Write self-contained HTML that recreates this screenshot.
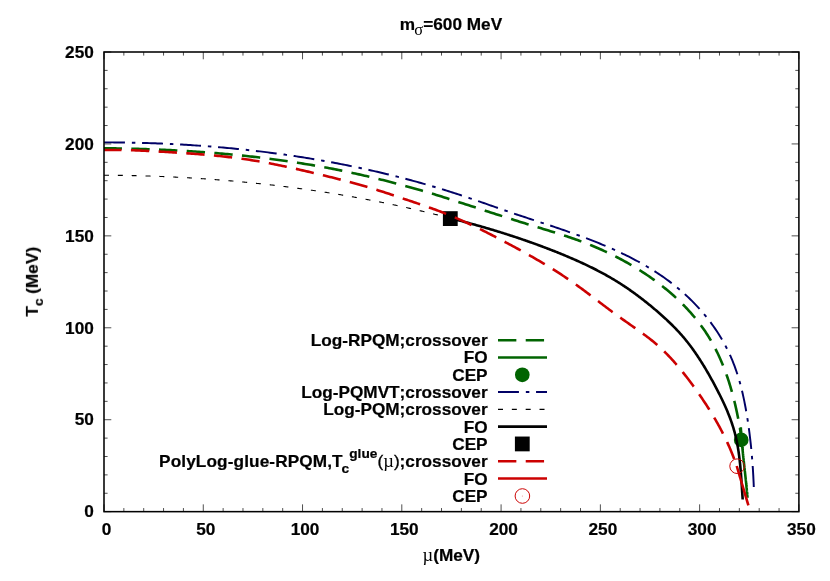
<!DOCTYPE html>
<html><head><meta charset="utf-8"><title>Phase diagram</title>
<style>
html,body{margin:0;padding:0;background:#fff;}
svg{display:block;}
text{font-family:"Liberation Sans",sans-serif;font-weight:bold;font-size:17.22px;fill:#000;font-kerning:none;stroke:#000;stroke-width:0.22px;}
.par{font-weight:normal;stroke:#000;stroke-width:0.35px;}
.sym{font-family:"Liberation Serif",serif;font-weight:normal;stroke:none;}
path{fill:none;}
</style></head>
<body>
<svg width="830" height="581" viewBox="0 0 830 581">
<rect width="830" height="581" fill="#fff"/>
<g style="opacity:0.999">
<text x="399.85" y="29.8">m<tspan class="sym" dx="-0.85" dy="5.3" font-size="16.5">σ</tspan><tspan dx="0" dy="-5.3">=600 MeV</tspan></text>
<text transform="translate(37.9,281.8) rotate(-90)" text-anchor="middle">T<tspan dy="4.8" font-size="13.7">c</tspan><tspan dy="-4.8"> (MeV)</tspan></text>
<text x="451.3" y="560.8" text-anchor="middle"><tspan class="sym" font-size="18.5">µ</tspan>(MeV)</text>
<g><text x="106.50" y="535.2" text-anchor="middle">0</text><text x="205.77" y="535.2" text-anchor="middle">50</text><text x="305.04" y="535.2" text-anchor="middle">100</text><text x="404.31" y="535.2" text-anchor="middle">150</text><text x="503.59" y="535.2" text-anchor="middle">200</text><text x="602.86" y="535.2" text-anchor="middle">250</text><text x="702.13" y="535.2" text-anchor="middle">300</text><text x="801.40" y="535.2" text-anchor="middle">350</text></g>
<g><text x="93.8" y="517.40" text-anchor="end">0</text><text x="93.8" y="425.47" text-anchor="end">50</text><text x="93.8" y="333.54" text-anchor="end">100</text><text x="93.8" y="241.61" text-anchor="end">150</text><text x="93.8" y="149.68" text-anchor="end">200</text><text x="93.8" y="57.75" text-anchor="end">250</text></g>
<path d="M104.00,511.65 v-7.3 M104.00,52.0 v7.3 M123.85,511.65 v-3.6 M123.85,52.0 v3.6 M143.71,511.65 v-3.6 M143.71,52.0 v3.6 M163.56,511.65 v-3.6 M163.56,52.0 v3.6 M183.42,511.65 v-3.6 M183.42,52.0 v3.6 M203.27,511.65 v-7.3 M203.27,52.0 v7.3 M223.13,511.65 v-3.6 M223.13,52.0 v3.6 M242.98,511.65 v-3.6 M242.98,52.0 v3.6 M262.83,511.65 v-3.6 M262.83,52.0 v3.6 M282.69,511.65 v-3.6 M282.69,52.0 v3.6 M302.54,511.65 v-7.3 M302.54,52.0 v7.3 M322.40,511.65 v-3.6 M322.40,52.0 v3.6 M342.25,511.65 v-3.6 M342.25,52.0 v3.6 M362.11,511.65 v-3.6 M362.11,52.0 v3.6 M381.96,511.65 v-3.6 M381.96,52.0 v3.6 M401.81,511.65 v-7.3 M401.81,52.0 v7.3 M421.67,511.65 v-3.6 M421.67,52.0 v3.6 M441.52,511.65 v-3.6 M441.52,52.0 v3.6 M461.38,511.65 v-3.6 M461.38,52.0 v3.6 M481.23,511.65 v-3.6 M481.23,52.0 v3.6 M501.09,511.65 v-7.3 M501.09,52.0 v7.3 M520.94,511.65 v-3.6 M520.94,52.0 v3.6 M540.79,511.65 v-3.6 M540.79,52.0 v3.6 M560.65,511.65 v-3.6 M560.65,52.0 v3.6 M580.50,511.65 v-3.6 M580.50,52.0 v3.6 M600.36,511.65 v-7.3 M600.36,52.0 v7.3 M620.21,511.65 v-3.6 M620.21,52.0 v3.6 M640.07,511.65 v-3.6 M640.07,52.0 v3.6 M659.92,511.65 v-3.6 M659.92,52.0 v3.6 M679.77,511.65 v-3.6 M679.77,52.0 v3.6 M699.63,511.65 v-7.3 M699.63,52.0 v7.3 M719.48,511.65 v-3.6 M719.48,52.0 v3.6 M739.34,511.65 v-3.6 M739.34,52.0 v3.6 M759.19,511.65 v-3.6 M759.19,52.0 v3.6 M779.05,511.65 v-3.6 M779.05,52.0 v3.6 M798.90,511.65 v-7.3 M798.90,52.0 v7.3 M104.0,511.65 h7.3 M798.9,511.65 h-7.3 M104.0,493.26 h3.6 M798.9,493.26 h-3.6 M104.0,474.88 h3.6 M798.9,474.88 h-3.6 M104.0,456.49 h3.6 M798.9,456.49 h-3.6 M104.0,438.11 h3.6 M798.9,438.11 h-3.6 M104.0,419.72 h7.3 M798.9,419.72 h-7.3 M104.0,401.33 h3.6 M798.9,401.33 h-3.6 M104.0,382.95 h3.6 M798.9,382.95 h-3.6 M104.0,364.56 h3.6 M798.9,364.56 h-3.6 M104.0,346.18 h3.6 M798.9,346.18 h-3.6 M104.0,327.79 h7.3 M798.9,327.79 h-7.3 M104.0,309.40 h3.6 M798.9,309.40 h-3.6 M104.0,291.02 h3.6 M798.9,291.02 h-3.6 M104.0,272.63 h3.6 M798.9,272.63 h-3.6 M104.0,254.25 h3.6 M798.9,254.25 h-3.6 M104.0,235.86 h7.3 M798.9,235.86 h-7.3 M104.0,217.47 h3.6 M798.9,217.47 h-3.6 M104.0,199.09 h3.6 M798.9,199.09 h-3.6 M104.0,180.70 h3.6 M798.9,180.70 h-3.6 M104.0,162.32 h3.6 M798.9,162.32 h-3.6 M104.0,143.93 h7.3 M798.9,143.93 h-7.3 M104.0,125.54 h3.6 M798.9,125.54 h-3.6 M104.0,107.16 h3.6 M798.9,107.16 h-3.6 M104.0,88.77 h3.6 M798.9,88.77 h-3.6 M104.0,70.39 h3.6 M798.9,70.39 h-3.6 M104.0,52.00 h7.3 M798.9,52.00 h-7.3" stroke="#000" stroke-width="0.7"/>
<g>
<text x="487.6" y="346.20" text-anchor="end">Log-RPQM;crossover</text><path d="M498.0,340.20 H547.0" stroke="#006400" stroke-width="2.6" stroke-dasharray="18.35 9.37"/>
<text x="487.6" y="363.49" text-anchor="end">FO</text><path d="M498.0,357.49 H547.0" stroke="#006400" stroke-width="2.6"/>
<text x="487.6" y="380.78" text-anchor="end">CEP</text><circle cx="522.3" cy="374.78" r="7.35" fill="#006400"/>
<text x="487.6" y="398.07" text-anchor="end">Log-PQMVT;crossover</text><path d="M498.0,392.07 H547.0" stroke="#000066" stroke-width="1.95" stroke-dasharray="20.93 6.91 3.5 6.71"/>
<text x="487.6" y="415.36" text-anchor="end">Log-PQM;crossover</text><path d="M498.0,409.36 H547.0" stroke="#000000" stroke-width="1.1" stroke-dasharray="5 8.84"/>
<text x="487.6" y="432.65" text-anchor="end">FO</text><path d="M498.0,426.65 H547.0" stroke="#000000" stroke-width="2.6"/>
<text x="487.6" y="449.94" text-anchor="end">CEP</text><rect x="514.9" y="436.54" width="14.8" height="14.8" fill="#000000"/>
<text x="487.6" y="467.23" text-anchor="end"><tspan letter-spacing="0.11">PolyLog-glue-RPQM,</tspan>T<tspan dx="-1.2" dy="5.7" font-size="13.7">c</tspan><tspan dx="0.2" dy="-14.5" font-size="13.7">glue</tspan><tspan dx="0.1" dy="8.8" class="par">(</tspan><tspan class="sym" font-size="18.5">µ</tspan><tspan class="par">)</tspan>;crossover</text><path d="M498.0,461.23 H547.0" stroke="#cc0000" stroke-width="2.6" stroke-dasharray="18.35 9.37"/>
<text x="487.6" y="484.52" text-anchor="end">FO</text><path d="M498.0,478.52 H547.0" stroke="#cc0000" stroke-width="2.6"/>
<text x="487.6" y="501.81" text-anchor="end">CEP</text><circle cx="522.4" cy="496.01" r="7.3" fill="none" stroke="#cc0000" stroke-width="1"/><circle cx="522.4" cy="496.01" r="0.6" fill="#cc0000" opacity="0.45"/>
</g>
<g stroke-linecap="butt" stroke-linejoin="round">
<path d="M104.00,148.27 L105.90,148.29 L107.81,148.31 L109.71,148.33 L111.61,148.35 L113.51,148.38 L115.42,148.41 L117.32,148.44 L119.22,148.47 L121.12,148.50 L123.03,148.54 L124.93,148.58 L126.83,148.62 L128.74,148.66 L130.64,148.70 L132.54,148.75 L134.44,148.80 L136.35,148.85 L138.25,148.90 L140.15,148.95 L142.05,149.01 L143.95,149.07 L145.86,149.13 L147.76,149.20 L149.66,149.26 L151.56,149.33 L153.47,149.40 L155.37,149.47 L157.27,149.55 L159.17,149.62 L161.07,149.70 L162.97,149.79 L164.87,149.87 L166.78,149.96 L168.68,150.05 L170.58,150.14 L172.48,150.23 L174.38,150.33 L176.28,150.43 L178.18,150.53 L180.08,150.63 L181.98,150.74 L183.88,150.85 L185.78,150.96 L187.68,151.08 L189.58,151.19 L191.48,151.31 L193.38,151.44 L195.27,151.56 L197.17,151.69 L199.07,151.82 L200.97,151.95 L202.87,152.09 L204.77,152.23 L206.66,152.37 L208.56,152.51 L210.46,152.66 L212.35,152.81 L214.25,152.96 L216.15,153.12 L218.04,153.28 L219.94,153.44 L221.83,153.60 L223.73,153.77 L225.63,153.94 L227.52,154.11 L229.41,154.29 L231.31,154.47 L233.20,154.65 L235.10,154.84 L236.99,155.02 L238.88,155.22 L240.78,155.41 L242.67,155.61 L244.56,155.81 L246.45,156.01 L248.34,156.22 L250.24,156.43 L252.13,156.64 L254.02,156.86 L255.91,157.08 L257.80,157.30 L259.69,157.53 L261.58,157.76 L263.47,157.99 L265.35,158.23 L267.24,158.46 L269.13,158.71 L271.02,158.95 L272.90,159.20 L274.79,159.45 L276.68,159.71 L278.56,159.97 L280.45,160.23 L282.33,160.49 L284.21,160.76 L286.10,161.03 L287.98,161.30 L289.86,161.58 L291.74,161.86 L293.63,162.14 L295.51,162.43 L297.39,162.72 L299.27,163.01 L301.14,163.31 L303.02,163.61 L304.90,163.91 L306.78,164.22 L308.65,164.53 L310.53,164.84 L312.40,165.15 L314.28,165.47 L316.15,165.80 L318.03,166.12 L319.90,166.45 L321.77,166.78 L323.64,167.12 L325.51,167.47 L327.38,167.82 L329.25,168.17 L331.11,168.53 L332.98,168.89 L334.84,169.26 L336.71,169.63 L338.57,170.01 L340.43,170.39 L342.29,170.77 L344.16,171.16 L346.02,171.55 L347.88,171.95 L349.74,172.35 L351.59,172.75 L353.45,173.16 L355.31,173.56 L357.17,173.98 L359.02,174.39 L360.88,174.81 L362.73,175.23 L364.59,175.66 L366.44,176.09 L368.29,176.52 L370.15,176.96 L372.00,177.40 L373.85,177.84 L375.70,178.29 L377.55,178.73 L379.40,179.19 L381.24,179.64 L383.09,180.10 L384.94,180.56 L386.78,181.03 L388.63,181.50 L390.47,181.97 L392.31,182.45 L394.16,182.93 L396.00,183.41 L397.84,183.90 L399.68,184.39 L401.51,184.88 L403.35,185.38 L405.19,185.88 L407.02,186.38 L408.86,186.89 L410.69,187.40 L412.52,187.91 L414.35,188.43 L416.19,188.95 L418.01,189.48 L419.84,190.00 L421.67,190.53 L423.50,191.07 L425.32,191.61 L427.15,192.15 L428.97,192.69 L430.79,193.24 L432.61,193.80 L434.43,194.35 L436.25,194.91 L438.07,195.47 L439.88,196.04 L441.70,196.60 L443.51,197.17 L445.32,197.75 L447.14,198.32 L448.95,198.90 L450.76,199.48 L452.57,200.06 L454.38,200.64 L456.19,201.23 L458.00,201.81 L459.81,202.40 L461.62,202.99 L463.43,203.57 L465.23,204.16 L467.04,204.75 L468.85,205.34 L470.66,205.93 L472.46,206.52 L474.27,207.11 L476.08,207.70 L477.89,208.29 L479.69,208.88 L481.50,209.47 L483.31,210.05 L485.12,210.64 L486.92,211.23 L488.73,211.81 L490.54,212.39 L492.35,212.98 L494.16,213.56 L495.96,214.14 L497.77,214.72 L499.58,215.30 L501.39,215.88 L503.20,216.46 L505.01,217.04 L506.82,217.62 L508.63,218.20 L510.44,218.78 L512.25,219.35 L514.06,219.93 L515.87,220.50 L517.68,221.08 L519.49,221.65 L521.30,222.22 L523.12,222.78 L524.93,223.35 L526.74,223.91 L528.56,224.47 L530.38,225.03 L532.20,225.59 L534.01,226.15 L535.83,226.70 L537.65,227.26 L539.48,227.81 L541.30,228.36 L543.12,228.91 L544.94,229.47 L546.76,230.02 L548.58,230.58 L550.40,231.14 L552.22,231.70 L554.04,232.27 L555.86,232.83 L557.67,233.40 L559.49,233.98 L561.30,234.56 L563.11,235.15 L564.92,235.74 L566.73,236.33 L568.53,236.94 L570.33,237.55 L572.13,238.16 L573.93,238.79 L575.72,239.42 L577.51,240.06 L579.29,240.71 L581.08,241.37 L582.86,242.04 L584.63,242.72 L586.40,243.40 L588.17,244.10 L589.93,244.81 L591.69,245.53 L593.44,246.25 L595.19,246.99 L596.94,247.74 L598.68,248.49 L600.41,249.26 L602.15,250.04 L603.87,250.82 L605.60,251.62 L607.31,252.43 L609.03,253.25 L610.74,254.07 L612.44,254.91 L614.14,255.76 L615.83,256.62 L617.52,257.49 L619.21,258.37 L620.88,259.26 L622.56,260.16 L624.23,261.07 L625.89,261.99 L627.55,262.92 L629.20,263.87 L630.85,264.82 L632.49,265.78 L634.12,266.76 L635.75,267.75 L637.37,268.75 L638.99,269.75 L640.61,270.77 L642.21,271.81 L643.81,272.85 L645.40,273.90 L646.99,274.97 L648.57,276.04 L650.14,277.13 L651.71,278.23 L653.26,279.34 L654.81,280.46 L656.35,281.59 L657.88,282.73 L659.40,283.89 L660.92,285.05 L662.42,286.23 L663.92,287.42 L665.40,288.62 L666.88,289.83 L668.34,291.05 L669.80,292.29 L671.24,293.53 L672.68,294.79 L674.10,296.06 L675.51,297.34 L676.91,298.63 L678.29,299.94 L679.67,301.25 L681.03,302.58 L682.38,303.92 L683.72,305.27 L685.04,306.63 L686.35,308.00 L687.65,309.39 L688.93,310.79 L690.20,312.20 L691.46,313.62 L692.70,315.05 L693.92,316.50 L695.13,317.95 L696.33,319.42 L697.51,320.90 L698.67,322.40 L699.82,323.90 L700.95,325.42 L702.06,326.94 L703.16,328.49 L704.24,330.04 L705.31,331.60 L706.36,333.18 L707.38,334.77 L708.40,336.37 L709.39,337.98 L710.36,339.61 L711.32,341.25 L712.26,342.89 L713.18,344.55 L714.08,346.22 L714.97,347.91 L715.84,349.60 L716.69,351.30 L717.53,353.01 L718.35,354.73 L719.15,356.46 L719.94,358.20 L720.71,359.94 L721.46,361.70 L722.20,363.46 L722.93,365.23 L723.64,367.00 L724.33,368.79 L725.01,370.58 L725.67,372.37 L726.32,374.17 L726.96,375.98 L727.58,377.79 L728.19,379.61 L728.79,381.43 L729.37,383.26 L729.94,385.09 L730.49,386.92 L731.03,388.76 L731.56,390.60 L732.08,392.44 L732.58,394.29 L733.08,396.14 L733.56,397.99 L734.03,399.84 L734.49,401.69 L734.93,403.54 L735.37,405.39 L735.79,407.25 L736.21,409.10 L736.61,410.95 L737.00,412.81 L737.39,414.66 L737.76,416.52 L738.13,418.37 L738.48,420.23 L738.83,422.09 L739.17,423.95 L739.49,425.81 L739.82,427.68 L740.13,429.55 L740.44,431.43 L740.74,433.31 L741.03,435.20 L741.32,437.09 L741.60,438.99" stroke="#006400" stroke-width="2.6" stroke-dasharray="18.35 9.37" stroke-dashoffset="0.4"/>
<path d="M740.80,427.20 L740.81,427.38 L740.82,427.55 L740.83,427.73 L740.84,427.91 L740.85,428.09 L740.86,428.26 L740.87,428.44 L740.88,428.62 L740.89,428.80 L740.90,428.97 L740.91,429.15 L740.92,429.33 L740.93,429.50 L740.94,429.68 L740.95,429.86 L740.96,430.04 L740.97,430.21 L740.98,430.39 L740.99,430.57 L741.01,430.74 L741.02,430.92 L741.03,431.10 L741.04,431.28 L741.05,431.45 L741.06,431.63 L741.07,431.81 L741.08,431.98 L741.10,432.16 L741.11,432.34 L741.12,432.52 L741.13,432.69 L741.14,432.87 L741.16,433.05 L741.17,433.22 L741.18,433.40 L741.19,433.58 L741.20,433.76 L741.22,433.93 L741.23,434.11 L741.24,434.29 L741.25,434.46 L741.27,434.64 L741.28,434.82 L741.29,435.00 L741.31,435.17 L741.32,435.35 L741.33,435.53 L741.34,435.70 L741.36,435.88 L741.37,436.06 L741.38,436.23 L741.40,436.41 L741.41,436.59 L741.42,436.77 L741.44,436.94 L741.45,437.12 L741.47,437.30 L741.48,437.47 L741.49,437.65 L741.51,437.83 L741.52,438.00 L741.53,438.18 L741.55,438.36 L741.56,438.53 L741.58,438.71 L741.59,438.89 L741.61,439.07 L741.62,439.24 L741.63,439.42 L741.65,439.60 L741.66,439.77 L741.68,439.95 L741.69,440.13 L741.71,440.30 L741.72,440.48 L741.74,440.66 L741.75,440.83 L741.77,441.01 L741.78,441.19 L741.80,441.36 L741.81,441.54 L741.83,441.72 L741.84,441.90 L741.86,442.07 L741.87,442.25 L741.89,442.43 L741.90,442.60 L741.92,442.78 L741.93,442.96 L741.95,443.13 L741.97,443.31 L741.98,443.49 L742.00,443.66 L742.01,443.84 L742.03,444.02 L742.04,444.19 L742.06,444.37 L742.08,444.55 L742.09,444.72 L742.11,444.90 L742.12,445.08 L742.14,445.25 L742.16,445.43 L742.17,445.61 L742.19,445.78 L742.21,445.96 L742.22,446.14 L742.24,446.31 L742.26,446.49 L742.27,446.67 L742.29,446.84 L742.31,447.02 L742.32,447.20 L742.34,447.37 L742.36,447.55 L742.37,447.73 L742.39,447.90 L742.41,448.08 L742.42,448.26 L742.44,448.43 L742.46,448.61 L742.47,448.79 L742.49,448.96 L742.51,449.14 L742.53,449.32 L742.54,449.49 L742.56,449.67 L742.58,449.85 L742.60,450.02 L742.61,450.20 L742.63,450.38 L742.65,450.55 L742.67,450.73 L742.68,450.91 L742.70,451.08 L742.72,451.26 L742.74,451.44 L742.75,451.61 L742.77,451.79 L742.79,451.97 L742.81,452.14 L742.82,452.32 L742.84,452.50 L742.86,452.67 L742.88,452.85 L742.90,453.03 L742.91,453.20 L742.93,453.38 L742.95,453.56 L742.97,453.73 L742.99,453.91 L743.00,454.09 L743.02,454.26 L743.04,454.44 L743.06,454.62 L743.08,454.79 L743.10,454.97 L743.11,455.15 L743.13,455.32 L743.15,455.50 L743.17,455.68 L743.19,455.85 L743.21,456.03 L743.22,456.21 L743.24,456.38 L743.26,456.56 L743.28,456.73 L743.30,456.91 L743.32,457.09 L743.34,457.26 L743.35,457.44 L743.37,457.62 L743.39,457.79 L743.41,457.97 L743.43,458.15 L743.45,458.32 L743.47,458.50 L743.49,458.68 L743.50,458.85 L743.52,459.03 L743.54,459.21 L743.56,459.38 L743.58,459.56 L743.60,459.74 L743.62,459.91 L743.64,460.09 L743.66,460.27 L743.67,460.44 L743.69,460.62 L743.71,460.79 L743.73,460.97 L743.75,461.15 L743.77,461.32 L743.79,461.50 L743.81,461.68 L743.83,461.85 L743.85,462.03 L743.87,462.21 L743.89,462.38 L743.90,462.56 L743.92,462.74 L743.94,462.91 L743.96,463.09 L743.98,463.27 L744.00,463.44 L744.02,463.62 L744.04,463.80 L744.06,463.97 L744.08,464.15 L744.10,464.32 L744.12,464.50 L744.14,464.68 L744.15,464.85 L744.17,465.03 L744.19,465.21 L744.21,465.38 L744.23,465.56 L744.25,465.74 L744.27,465.91 L744.29,466.09 L744.31,466.27 L744.33,466.44 L744.35,466.62 L744.37,466.80 L744.39,466.97 L744.41,467.15 L744.43,467.32 L744.45,467.50 L744.46,467.68 L744.48,467.85 L744.50,468.03 L744.52,468.21 L744.54,468.38 L744.56,468.56 L744.58,468.74 L744.60,468.91 L744.62,469.09 L744.64,469.27 L744.66,469.44 L744.68,469.62 L744.70,469.80 L744.72,469.97 L744.74,470.15 L744.76,470.32 L744.78,470.50 L744.79,470.68 L744.81,470.85 L744.83,471.03 L744.85,471.21 L744.87,471.38 L744.89,471.56 L744.91,471.74 L744.93,471.91 L744.95,472.09 L744.97,472.27 L744.99,472.44 L745.01,472.62 L745.03,472.80 L745.05,472.97 L745.07,473.15 L745.08,473.33 L745.10,473.50 L745.12,473.68 L745.14,473.85 L745.16,474.03 L745.18,474.21 L745.20,474.38 L745.22,474.56 L745.24,474.74 L745.26,474.91 L745.28,475.09 L745.30,475.27 L745.32,475.44 L745.33,475.62 L745.35,475.80 L745.37,475.97 L745.39,476.15 L745.41,476.33 L745.43,476.50 L745.45,476.68 L745.47,476.85 L745.49,477.03 L745.51,477.21 L745.53,477.38 L745.54,477.56 L745.56,477.74 L745.58,477.91 L745.60,478.09 L745.62,478.27 L745.64,478.44 L745.66,478.62 L745.68,478.80 L745.70,478.97 L745.71,479.15 L745.73,479.33 L745.75,479.50 L745.77,479.68 L745.79,479.86 L745.81,480.03 L745.83,480.21 L745.84,480.39 L745.86,480.56 L745.88,480.74 L745.90,480.91 L745.92,481.09 L745.94,481.27 L745.96,481.44 L745.97,481.62 L745.99,481.80 L746.01,481.97 L746.03,482.15 L746.05,482.33 L746.07,482.50 L746.09,482.68 L746.10,482.86 L746.12,483.03 L746.14,483.21 L746.16,483.39 L746.18,483.56 L746.19,483.74 L746.21,483.92 L746.23,484.09 L746.25,484.27 L746.27,484.45 L746.28,484.62 L746.30,484.80 L746.32,484.98 L746.34,485.15 L746.36,485.33 L746.37,485.51 L746.39,485.68 L746.41,485.86 L746.43,486.04 L746.44,486.21 L746.46,486.39 L746.48,486.57 L746.50,486.74 L746.51,486.92 L746.53,487.10 L746.55,487.27 L746.57,487.45 L746.58,487.63 L746.60,487.80 L746.62,487.98 L746.64,488.16 L746.65,488.33 L746.67,488.51 L746.69,488.69 L746.71,488.86 L746.72,489.04 L746.74,489.22 L746.76,489.39 L746.77,489.57 L746.79,489.75 L746.81,489.92 L746.82,490.10 L746.84,490.28 L746.86,490.45 L746.87,490.63 L746.89,490.81 L746.91,490.98 L746.92,491.16 L746.94,491.34 L746.96,491.51 L746.97,491.69 L746.99,491.87 L747.01,492.04 L747.02,492.22 L747.04,492.40 L747.05,492.57 L747.07,492.75 L747.09,492.93 L747.10,493.10 L747.12,493.28 L747.13,493.46 L747.15,493.63 L747.17,493.81 L747.18,493.99 L747.20,494.16 L747.21,494.34 L747.23,494.52 L747.24,494.69 L747.26,494.87 L747.28,495.05 L747.29,495.22 L747.31,495.40 L747.32,495.58 L747.34,495.75 L747.35,495.93 L747.37,496.11 L747.38,496.29 L747.40,496.46 L747.41,496.64 L747.43,496.82 L747.44,496.99 L747.46,497.17 L747.47,497.35 L747.49,497.52 L747.50,497.70" stroke="#006400" stroke-width="2.6"/>
<circle cx="741.2" cy="439.9" r="7.35" fill="#006400"/>
<path d="M104.02,142.37 L106.07,142.38 L108.12,142.38 L110.17,142.39 L112.22,142.40 L114.28,142.42 L116.33,142.44 L118.38,142.46 L120.44,142.48 L122.49,142.51 L124.54,142.54 L126.59,142.57 L128.65,142.61 L130.70,142.65 L132.75,142.69 L134.81,142.73 L136.86,142.78 L138.92,142.83 L140.97,142.88 L143.02,142.94 L145.08,143.00 L147.13,143.06 L149.18,143.13 L151.24,143.19 L153.29,143.27 L155.35,143.34 L157.40,143.42 L159.45,143.50 L161.51,143.58 L163.56,143.67 L165.61,143.76 L167.67,143.85 L169.72,143.95 L171.77,144.05 L173.83,144.15 L175.88,144.25 L177.93,144.36 L179.99,144.48 L182.04,144.59 L184.09,144.71 L186.15,144.83 L188.20,144.95 L190.25,145.08 L192.30,145.21 L194.35,145.35 L196.41,145.48 L198.46,145.63 L200.51,145.77 L202.56,145.92 L204.61,146.07 L206.66,146.22 L208.71,146.38 L210.76,146.54 L212.81,146.70 L214.86,146.87 L216.91,147.04 L218.96,147.21 L221.01,147.39 L223.06,147.57 L225.11,147.75 L227.15,147.94 L229.20,148.13 L231.25,148.32 L233.30,148.52 L235.34,148.72 L237.39,148.93 L239.44,149.13 L241.48,149.34 L243.53,149.56 L245.57,149.78 L247.62,150.00 L249.66,150.22 L251.70,150.45 L253.75,150.68 L255.79,150.92 L257.83,151.16 L259.87,151.40 L261.92,151.65 L263.96,151.90 L266.00,152.15 L268.04,152.40 L270.08,152.66 L272.12,152.93 L274.15,153.20 L276.19,153.47 L278.23,153.74 L280.27,154.02 L282.30,154.30 L284.34,154.59 L286.37,154.88 L288.41,155.17 L290.44,155.46 L292.48,155.76 L294.51,156.07 L296.54,156.38 L298.57,156.69 L300.60,157.00 L302.64,157.32 L304.67,157.64 L306.69,157.97 L308.72,158.30 L310.75,158.63 L312.78,158.97 L314.80,159.31 L316.83,159.65 L318.86,160.00 L320.88,160.36 L322.90,160.71 L324.93,161.07 L326.95,161.44 L328.97,161.80 L330.99,162.18 L333.01,162.55 L335.03,162.93 L337.05,163.31 L339.07,163.70 L341.09,164.09 L343.10,164.49 L345.12,164.89 L347.13,165.29 L349.15,165.69 L351.16,166.11 L353.17,166.52 L355.18,166.94 L357.19,167.36 L359.20,167.79 L361.21,168.22 L363.22,168.65 L365.23,169.09 L367.23,169.53 L369.24,169.98 L371.24,170.43 L373.24,170.89 L375.25,171.34 L377.25,171.81 L379.25,172.27 L381.25,172.74 L383.25,173.22 L385.24,173.70 L387.24,174.18 L389.24,174.67 L391.23,175.16 L393.23,175.66 L395.22,176.16 L397.21,176.66 L399.20,177.17 L401.19,177.68 L403.18,178.20 L405.17,178.72 L407.15,179.24 L409.14,179.77 L411.12,180.31 L413.10,180.84 L415.09,181.39 L417.07,181.93 L419.05,182.48 L421.03,183.04 L423.00,183.60 L424.98,184.16 L426.95,184.73 L428.93,185.30 L430.90,185.87 L432.87,186.45 L434.84,187.04 L436.81,187.63 L438.78,188.22 L440.75,188.82 L442.71,189.42 L444.68,190.03 L446.64,190.64 L448.60,191.25 L450.56,191.87 L452.52,192.50 L454.48,193.13 L456.44,193.76 L458.39,194.40 L460.35,195.04 L462.30,195.69 L464.25,196.34 L466.20,196.99 L468.15,197.65 L470.10,198.31 L472.05,198.98 L473.99,199.65 L475.94,200.32 L477.88,200.99 L479.83,201.66 L481.77,202.34 L483.71,203.02 L485.65,203.70 L487.59,204.38 L489.53,205.06 L491.47,205.74 L493.41,206.42 L495.35,207.10 L497.29,207.78 L499.23,208.45 L501.17,209.13 L503.11,209.81 L505.04,210.48 L506.98,211.15 L508.92,211.82 L510.86,212.48 L512.80,213.15 L514.74,213.80 L516.67,214.46 L518.61,215.11 L520.55,215.76 L522.49,216.41 L524.43,217.05 L526.37,217.69 L528.31,218.34 L530.26,218.98 L532.20,219.62 L534.14,220.25 L536.09,220.89 L538.03,221.53 L539.98,222.17 L541.92,222.81 L543.87,223.46 L545.82,224.10 L547.76,224.75 L549.71,225.39 L551.67,226.04 L553.62,226.70 L555.57,227.35 L557.52,228.01 L559.48,228.68 L561.43,229.34 L563.38,230.02 L565.34,230.69 L567.29,231.37 L569.24,232.05 L571.19,232.74 L573.14,233.43 L575.09,234.13 L577.04,234.84 L578.98,235.54 L580.93,236.26 L582.87,236.98 L584.81,237.70 L586.75,238.44 L588.69,239.18 L590.62,239.92 L592.55,240.67 L594.48,241.43 L596.40,242.20 L598.32,242.97 L600.24,243.75 L602.15,244.54 L604.06,245.33 L605.97,246.14 L607.87,246.95 L609.77,247.77 L611.66,248.60 L613.55,249.44 L615.43,250.29 L617.31,251.15 L619.18,252.01 L621.05,252.89 L622.91,253.77 L624.76,254.67 L626.61,255.58 L628.45,256.49 L630.29,257.42 L632.12,258.36 L633.94,259.31 L635.75,260.27 L637.56,261.24 L639.36,262.22 L641.15,263.21 L642.94,264.22 L644.72,265.24 L646.49,266.27 L648.25,267.31 L650.00,268.37 L651.74,269.44 L653.48,270.52 L655.20,271.62 L656.92,272.73 L658.62,273.85 L660.32,274.99 L662.01,276.14 L663.69,277.30 L665.35,278.48 L667.01,279.68 L668.66,280.88 L670.29,282.11 L671.91,283.35 L673.53,284.60 L675.13,285.87 L676.72,287.16 L678.30,288.46 L679.87,289.78 L681.42,291.11 L682.97,292.46 L684.50,293.83 L686.01,295.21 L687.52,296.61 L689.01,298.02 L690.48,299.45 L691.95,300.90 L693.40,302.36 L694.83,303.83 L696.25,305.32 L697.65,306.83 L699.04,308.35 L700.42,309.88 L701.77,311.43 L703.11,312.99 L704.44,314.57 L705.75,316.16 L707.04,317.76 L708.31,319.38 L709.56,321.01 L710.80,322.65 L712.02,324.31 L713.22,325.98 L714.40,327.66 L715.57,329.36 L716.71,331.07 L717.84,332.79 L718.94,334.52 L720.02,336.27 L721.09,338.02 L722.13,339.79 L723.15,341.57 L724.15,343.36 L725.13,345.17 L726.09,346.98 L727.02,348.81 L727.93,350.65 L728.82,352.49 L729.69,354.35 L730.53,356.22 L731.35,358.10 L732.15,359.99 L732.92,361.89 L733.68,363.80 L734.41,365.72 L735.11,367.65 L735.80,369.58 L736.47,371.52 L737.12,373.48 L737.74,375.43 L738.35,377.40 L738.94,379.37 L739.51,381.35 L740.07,383.34 L740.61,385.33 L741.13,387.32 L741.63,389.32 L742.12,391.33 L742.60,393.34 L743.05,395.36 L743.50,397.37 L743.93,399.40 L744.35,401.42 L744.75,403.45 L745.15,405.48 L745.53,407.51 L745.90,409.54 L746.25,411.58 L746.60,413.61 L746.94,415.65 L747.27,417.69 L747.59,419.72 L747.90,421.76 L748.20,423.80 L748.49,425.84 L748.78,427.87 L749.05,429.91 L749.32,431.95 L749.58,433.98 L749.84,436.02 L750.08,438.06 L750.32,440.10 L750.55,442.13 L750.77,444.17 L750.98,446.21 L751.19,448.25 L751.39,450.29 L751.58,452.33 L751.76,454.37 L751.94,456.42 L752.11,458.46 L752.27,460.51 L752.43,462.55 L752.58,464.60 L752.72,466.64 L752.86,468.69 L752.99,470.74 L753.11,472.79 L753.23,474.85 L753.34,476.90 L753.44,478.96 L753.54,481.01 L753.64,483.07 L753.72,485.13 L753.81,487.19" stroke="#000066" stroke-width="1.95" stroke-dasharray="20.93 6.91 3.5 6.71"/>
<path d="M104.00,175.20 L104.88,175.21 L105.76,175.21 L106.64,175.22 L107.51,175.22 L108.39,175.23 L109.27,175.24 L110.15,175.24 L111.02,175.25 L111.90,175.26 L112.78,175.27 L113.66,175.28 L114.54,175.29 L115.41,175.30 L116.29,175.31 L117.17,175.32 L118.05,175.33 L118.92,175.34 L119.80,175.35 L120.68,175.37 L121.56,175.38 L122.44,175.39 L123.31,175.41 L124.19,175.42 L125.07,175.44 L125.95,175.45 L126.82,175.47 L127.70,175.48 L128.58,175.50 L129.46,175.52 L130.34,175.54 L131.21,175.56 L132.09,175.58 L132.97,175.59 L133.85,175.61 L134.72,175.64 L135.60,175.66 L136.48,175.68 L137.36,175.70 L138.24,175.72 L139.11,175.74 L139.99,175.77 L140.87,175.79 L141.75,175.82 L142.62,175.84 L143.50,175.87 L144.38,175.89 L145.26,175.92 L146.13,175.94 L147.01,175.97 L147.89,176.00 L148.77,176.03 L149.65,176.06 L150.52,176.09 L151.40,176.12 L152.28,176.15 L153.16,176.18 L154.03,176.21 L154.91,176.24 L155.79,176.27 L156.67,176.30 L157.54,176.34 L158.42,176.37 L159.30,176.40 L160.18,176.44 L161.05,176.47 L161.93,176.51 L162.81,176.54 L163.69,176.58 L164.56,176.62 L165.44,176.66 L166.32,176.69 L167.19,176.73 L168.07,176.77 L168.95,176.81 L169.83,176.85 L170.70,176.89 L171.58,176.93 L172.46,176.97 L173.34,177.02 L174.21,177.06 L175.09,177.10 L175.97,177.14 L176.84,177.19 L177.72,177.23 L178.60,177.28 L179.47,177.32 L180.35,177.37 L181.23,177.42 L182.11,177.46 L182.98,177.51 L183.86,177.56 L184.74,177.61 L185.61,177.66 L186.49,177.71 L187.37,177.76 L188.24,177.81 L189.12,177.86 L190.00,177.91 L190.87,177.96 L191.75,178.01 L192.63,178.07 L193.50,178.12 L194.38,178.17 L195.26,178.23 L196.13,178.28 L197.01,178.34 L197.88,178.39 L198.76,178.45 L199.64,178.51 L200.51,178.57 L201.39,178.62 L202.27,178.68 L203.14,178.74 L204.02,178.80 L204.89,178.86 L205.77,178.92 L206.65,178.98 L207.52,179.05 L208.40,179.11 L209.27,179.17 L210.15,179.23 L211.03,179.30 L211.90,179.36 L212.78,179.43 L213.65,179.49 L214.53,179.56 L215.40,179.62 L216.28,179.69 L217.16,179.76 L218.03,179.83 L218.91,179.90 L219.78,179.96 L220.66,180.03 L221.53,180.10 L222.41,180.17 L223.28,180.25 L224.16,180.32 L225.03,180.39 L225.91,180.46 L226.78,180.53 L227.66,180.61 L228.53,180.68 L229.41,180.76 L230.28,180.83 L231.16,180.91 L232.03,180.98 L232.91,181.06 L233.78,181.14 L234.66,181.22 L235.53,181.30 L236.41,181.37 L237.28,181.45 L238.16,181.53 L239.03,181.61 L239.90,181.70 L240.78,181.78 L241.65,181.86 L242.53,181.94 L243.40,182.02 L244.27,182.11 L245.15,182.19 L246.02,182.28 L246.90,182.36 L247.77,182.45 L248.64,182.53 L249.52,182.62 L250.39,182.71 L251.26,182.80 L252.14,182.89 L253.01,182.97 L253.89,183.06 L254.76,183.15 L255.63,183.25 L256.51,183.34 L257.38,183.43 L258.25,183.52 L259.12,183.61 L260.00,183.71 L260.87,183.80 L261.74,183.89 L262.62,183.99 L263.49,184.09 L264.36,184.18 L265.23,184.28 L266.11,184.38 L266.98,184.47 L267.85,184.57 L268.72,184.67 L269.60,184.77 L270.47,184.87 L271.34,184.97 L272.21,185.07 L273.08,185.17 L273.96,185.27 L274.83,185.38 L275.70,185.48 L276.57,185.58 L277.44,185.69 L278.32,185.79 L279.19,185.90 L280.06,186.00 L280.93,186.11 L281.80,186.22 L282.67,186.32 L283.54,186.43 L284.41,186.54 L285.29,186.65 L286.16,186.76 L287.03,186.87 L287.90,186.98 L288.77,187.09 L289.64,187.20 L290.51,187.32 L291.38,187.43 L292.25,187.54 L293.12,187.66 L293.99,187.77 L294.86,187.89 L295.73,188.00 L296.60,188.12 L297.47,188.24 L298.34,188.35 L299.21,188.47 L300.08,188.59 L300.95,188.71 L301.82,188.83 L302.69,188.95 L303.56,189.07 L304.43,189.19 L305.30,189.32 L306.17,189.44 L307.04,189.56 L307.91,189.68 L308.77,189.81 L309.64,189.93 L310.51,190.06 L311.38,190.18 L312.25,190.31 L313.12,190.44 L313.99,190.57 L314.85,190.69 L315.72,190.82 L316.59,190.95 L317.46,191.08 L318.33,191.21 L319.19,191.34 L320.06,191.48 L320.93,191.61 L321.80,191.74 L322.67,191.87 L323.53,192.01 L324.40,192.14 L325.27,192.28 L326.13,192.41 L327.00,192.55 L327.87,192.69 L328.74,192.82 L329.60,192.96 L330.47,193.10 L331.34,193.24 L332.20,193.38 L333.07,193.52 L333.93,193.66 L334.80,193.80 L335.67,193.94 L336.53,194.08 L337.40,194.23 L338.26,194.37 L339.13,194.51 L340.00,194.66 L340.86,194.81 L341.73,194.95 L342.59,195.10 L343.46,195.24 L344.32,195.39 L345.19,195.54 L346.05,195.69 L346.92,195.84 L347.78,195.99 L348.65,196.14 L349.51,196.29 L350.38,196.44 L351.24,196.59 L352.10,196.75 L352.97,196.90 L353.83,197.06 L354.70,197.21 L355.56,197.37 L356.42,197.52 L357.29,197.68 L358.15,197.83 L359.01,197.99 L359.88,198.15 L360.74,198.31 L361.60,198.47 L362.47,198.63 L363.33,198.79 L364.19,198.95 L365.05,199.11 L365.92,199.27 L366.78,199.44 L367.64,199.60 L368.50,199.76 L369.37,199.93 L370.23,200.09 L371.09,200.26 L371.95,200.43 L372.81,200.59 L373.67,200.76 L374.54,200.93 L375.40,201.10 L376.26,201.27 L377.12,201.44 L377.98,201.61 L378.84,201.78 L379.70,201.95 L380.56,202.12 L381.42,202.30 L382.28,202.47 L383.14,202.64 L384.00,202.82 L384.86,202.99 L385.72,203.17 L386.58,203.35 L387.44,203.52 L388.30,203.70 L389.16,203.88 L390.02,204.06 L390.88,204.24 L391.74,204.42 L392.60,204.60 L393.46,204.78 L394.32,204.96 L395.17,205.15 L396.03,205.33 L396.89,205.51 L397.75,205.70 L398.61,205.88 L399.46,206.07 L400.32,206.25 L401.18,206.44 L402.04,206.63 L402.90,206.82 L403.75,207.01 L404.61,207.20 L405.47,207.39 L406.32,207.58 L407.18,207.77 L408.04,207.96 L408.89,208.15 L409.75,208.34 L410.61,208.54 L411.46,208.73 L412.32,208.93 L413.17,209.12 L414.03,209.32 L414.89,209.51 L415.74,209.71 L416.60,209.91 L417.45,210.11 L418.31,210.31 L419.16,210.51 L420.02,210.71 L420.87,210.91 L421.72,211.11 L422.58,211.31 L423.43,211.51 L424.29,211.72 L425.14,211.92 L426.00,212.13 L426.85,212.33 L427.70,212.54 L428.56,212.74 L429.41,212.95 L430.26,213.16 L431.12,213.37 L431.97,213.58 L432.82,213.79 L433.67,214.00 L434.53,214.21 L435.38,214.42 L436.23,214.63 L437.08,214.84 L437.93,215.06 L438.79,215.27 L439.64,215.49 L440.49,215.70 L441.34,215.92 L442.19,216.13 L443.04,216.35 L443.89,216.57 L444.74,216.79 L445.59,217.01 L446.44,217.23 L447.29,217.45 L448.14,217.67 L448.99,217.89 L449.84,218.11 L450.69,218.33" stroke="#000000" stroke-width="1.1" stroke-dasharray="5 8.84"/>
<path d="M450.70,218.29 L451.78,218.57 L452.85,218.84 L453.92,219.12 L454.99,219.39 L456.07,219.67 L457.14,219.95 L458.21,220.23 L459.28,220.51 L460.35,220.79 L461.42,221.08 L462.49,221.36 L463.56,221.65 L464.63,221.93 L465.70,222.22 L466.77,222.51 L467.84,222.80 L468.91,223.09 L469.98,223.38 L471.05,223.67 L472.12,223.97 L473.18,224.26 L474.25,224.56 L475.32,224.86 L476.38,225.16 L477.45,225.46 L478.51,225.76 L479.58,226.06 L480.64,226.37 L481.71,226.67 L482.77,226.98 L483.84,227.29 L484.90,227.60 L485.96,227.91 L487.03,228.22 L488.09,228.53 L489.15,228.84 L490.21,229.16 L491.27,229.48 L492.33,229.79 L493.39,230.11 L494.45,230.43 L495.51,230.76 L496.57,231.08 L497.63,231.40 L498.69,231.73 L499.74,232.06 L500.80,232.38 L501.86,232.71 L502.92,233.05 L503.97,233.38 L505.03,233.71 L506.08,234.05 L507.14,234.38 L508.19,234.72 L509.24,235.06 L510.30,235.40 L511.35,235.74 L512.40,236.09 L513.45,236.43 L514.51,236.78 L515.56,237.13 L516.61,237.48 L517.66,237.83 L518.71,238.18 L519.76,238.53 L520.80,238.89 L521.85,239.25 L522.90,239.61 L523.95,239.96 L524.99,240.33 L526.04,240.69 L527.08,241.05 L528.13,241.42 L529.17,241.79 L530.22,242.16 L531.26,242.53 L532.30,242.90 L533.34,243.27 L534.39,243.65 L535.43,244.02 L536.47,244.40 L537.51,244.78 L538.55,245.16 L539.59,245.55 L540.62,245.93 L541.66,246.32 L542.70,246.71 L543.74,247.10 L544.77,247.49 L545.81,247.88 L546.84,248.27 L547.88,248.67 L548.91,249.07 L549.94,249.47 L550.97,249.87 L552.01,250.27 L553.04,250.68 L554.07,251.08 L555.10,251.49 L556.13,251.90 L557.16,252.31 L558.18,252.73 L559.21,253.14 L560.24,253.56 L561.27,253.98 L562.29,254.40 L563.32,254.82 L564.34,255.24 L565.36,255.67 L566.39,256.09 L567.41,256.52 L568.43,256.96 L569.45,257.39 L570.47,257.83 L571.49,258.26 L572.50,258.70 L573.52,259.15 L574.54,259.59 L575.55,260.04 L576.56,260.49 L577.57,260.94 L578.59,261.39 L579.59,261.85 L580.60,262.31 L581.61,262.77 L582.62,263.24 L583.62,263.70 L584.62,264.17 L585.63,264.64 L586.63,265.12 L587.63,265.60 L588.62,266.08 L589.62,266.56 L590.61,267.05 L591.61,267.54 L592.60,268.03 L593.59,268.52 L594.58,269.02 L595.56,269.52 L596.55,270.03 L597.53,270.54 L598.51,271.05 L599.49,271.56 L600.47,272.08 L601.45,272.60 L602.42,273.12 L603.39,273.65 L604.37,274.18 L605.33,274.72 L606.30,275.25 L607.26,275.80 L608.23,276.34 L609.19,276.89 L610.15,277.44 L611.10,278.00 L612.06,278.56 L613.01,279.12 L613.96,279.69 L614.90,280.26 L615.85,280.84 L616.79,281.41 L617.73,282.00 L618.67,282.59 L619.61,283.18 L620.54,283.77 L621.47,284.37 L622.40,284.97 L623.33,285.58 L624.25,286.19 L625.17,286.80 L626.09,287.42 L627.01,288.04 L627.92,288.67 L628.83,289.30 L629.75,289.93 L630.65,290.57 L631.56,291.20 L632.46,291.85 L633.36,292.49 L634.26,293.14 L635.16,293.80 L636.05,294.45 L636.94,295.11 L637.83,295.77 L638.72,296.44 L639.61,297.11 L640.49,297.78 L641.37,298.45 L642.25,299.13 L643.13,299.81 L644.00,300.49 L644.87,301.18 L645.74,301.87 L646.61,302.56 L647.48,303.25 L648.34,303.95 L649.20,304.65 L650.06,305.35 L650.92,306.06 L651.78,306.77 L652.63,307.47 L653.48,308.19 L654.33,308.90 L655.18,309.62 L656.02,310.34 L656.86,311.06 L657.70,311.78 L658.54,312.51 L659.38,313.24 L660.21,313.97 L661.04,314.70 L661.87,315.44 L662.70,316.18 L663.52,316.92 L664.34,317.67 L665.16,318.41 L665.97,319.16 L666.78,319.92 L667.59,320.68 L668.39,321.44 L669.19,322.20 L669.99,322.97 L670.79,323.74 L671.57,324.51 L672.36,325.29 L673.14,326.07 L673.92,326.85 L674.69,327.64 L675.46,328.43 L676.23,329.23 L676.99,330.03 L677.74,330.83 L678.50,331.64 L679.24,332.46 L679.98,333.27 L680.72,334.09 L681.45,334.92 L682.18,335.75 L682.90,336.58 L683.62,337.42 L684.33,338.27 L685.03,339.12 L685.73,339.97 L686.43,340.83 L687.11,341.69 L687.80,342.56 L688.48,343.43 L689.15,344.31 L689.82,345.18 L690.48,346.07 L691.14,346.95 L691.80,347.84 L692.45,348.74 L693.09,349.63 L693.73,350.54 L694.37,351.44 L695.00,352.35 L695.63,353.26 L696.26,354.17 L696.88,355.08 L697.50,356.00 L698.11,356.93 L698.72,357.85 L699.32,358.78 L699.92,359.71 L700.52,360.64 L701.12,361.58 L701.71,362.51 L702.29,363.46 L702.88,364.40 L703.46,365.34 L704.04,366.29 L704.61,367.24 L705.18,368.19 L705.75,369.15 L706.31,370.10 L706.87,371.06 L707.43,372.02 L707.99,372.99 L708.54,373.95 L709.09,374.92 L709.64,375.88 L710.18,376.85 L710.72,377.82 L711.26,378.80 L711.80,379.77 L712.33,380.74 L712.87,381.72 L713.40,382.70 L713.92,383.68 L714.45,384.66 L714.97,385.64 L715.49,386.62 L716.01,387.61 L716.53,388.59 L717.04,389.58 L717.56,390.56 L718.07,391.55 L718.57,392.54 L719.08,393.53 L719.58,394.52 L720.07,395.51 L720.57,396.51 L721.06,397.50 L721.54,398.50 L722.03,399.50 L722.51,400.50 L722.98,401.50 L723.45,402.51 L723.92,403.51 L724.38,404.52 L724.84,405.53 L725.29,406.54 L725.74,407.55 L726.18,408.56 L726.62,409.58 L727.05,410.59 L727.48,411.61 L727.90,412.63 L728.32,413.66 L728.73,414.68 L729.13,415.71 L729.53,416.74 L729.92,417.77 L730.30,418.81 L730.68,419.84 L731.05,420.88 L731.42,421.92 L731.78,422.96 L732.13,424.01 L732.47,425.06 L732.81,426.11 L733.14,427.16 L733.46,428.21 L733.77,429.27 L734.08,430.33 L734.38,431.39 L734.67,432.46 L734.95,433.53 L735.22,434.60 L735.48,435.67 L735.74,436.75 L735.99,437.83 L736.23,438.91 L736.47,439.99 L736.69,441.07 L736.91,442.16 L737.13,443.25 L737.33,444.34 L737.53,445.43 L737.73,446.53 L737.92,447.62 L738.10,448.72 L738.27,449.82 L738.44,450.92 L738.61,452.02 L738.76,453.13 L738.92,454.23 L739.07,455.34 L739.21,456.44 L739.35,457.55 L739.48,458.66 L739.61,459.77 L739.74,460.88 L739.86,461.99 L739.98,463.10 L740.09,464.21 L740.20,465.32 L740.31,466.43 L740.41,467.54 L740.51,468.65 L740.61,469.77 L740.70,470.88 L740.79,471.99 L740.88,473.10 L740.97,474.21 L741.05,475.32 L741.14,476.43 L741.22,477.54 L741.30,478.65 L741.37,479.76 L741.45,480.87 L741.52,481.97 L741.60,483.08 L741.67,484.19 L741.74,485.29 L741.82,486.39 L741.89,487.49 L741.96,488.59 L742.03,489.69 L742.10,490.79 L742.17,491.88 L742.25,492.98 L742.32,494.07 L742.39,495.16 L742.47,496.25 L742.54,497.33 L742.62,498.42 L742.70,499.50" stroke="#000000" stroke-width="2.6"/>
<rect x="442.9" y="211.2" width="14.8" height="14.8" fill="#000000"/>
<path d="M104.00,150.03 L105.87,149.99 L107.74,149.97 L109.61,149.95 L111.48,149.94 L113.36,149.94 L115.23,149.94 L117.10,149.95 L118.97,149.97 L120.83,149.99 L122.70,150.02 L124.57,150.06 L126.44,150.10 L128.31,150.15 L130.18,150.20 L132.04,150.26 L133.91,150.32 L135.78,150.39 L137.64,150.46 L139.51,150.54 L141.38,150.62 L143.24,150.70 L145.11,150.79 L146.98,150.88 L148.84,150.97 L150.71,151.07 L152.57,151.17 L154.44,151.27 L156.31,151.38 L158.17,151.48 L160.04,151.59 L161.91,151.70 L163.77,151.81 L165.64,151.93 L167.50,152.04 L169.37,152.16 L171.24,152.27 L173.10,152.39 L174.97,152.51 L176.84,152.63 L178.71,152.75 L180.57,152.87 L182.44,152.99 L184.31,153.12 L186.17,153.25 L188.04,153.38 L189.91,153.51 L191.77,153.65 L193.64,153.79 L195.50,153.93 L197.37,154.07 L199.23,154.22 L201.10,154.37 L202.96,154.52 L204.83,154.68 L206.69,154.84 L208.56,155.00 L210.42,155.17 L212.28,155.34 L214.14,155.51 L216.00,155.69 L217.86,155.88 L219.73,156.07 L221.58,156.26 L223.44,156.46 L225.30,156.66 L227.16,156.87 L229.02,157.09 L230.87,157.30 L232.73,157.53 L234.58,157.76 L236.43,158.00 L238.29,158.24 L240.14,158.49 L241.99,158.74 L243.84,159.00 L245.69,159.27 L247.54,159.54 L249.38,159.82 L251.23,160.11 L253.07,160.41 L254.92,160.71 L256.76,161.01 L258.60,161.33 L260.44,161.65 L262.28,161.97 L264.12,162.31 L265.95,162.64 L267.79,162.99 L269.63,163.34 L271.46,163.69 L273.29,164.05 L275.13,164.41 L276.96,164.78 L278.79,165.16 L280.62,165.53 L282.45,165.92 L284.28,166.30 L286.11,166.69 L287.93,167.09 L289.76,167.49 L291.58,167.89 L293.41,168.29 L295.23,168.70 L297.05,169.11 L298.88,169.53 L300.70,169.94 L302.52,170.36 L304.34,170.79 L306.16,171.21 L307.98,171.64 L309.79,172.07 L311.61,172.50 L313.43,172.93 L315.24,173.37 L317.06,173.81 L318.87,174.24 L320.69,174.68 L322.50,175.12 L324.32,175.57 L326.13,176.01 L327.95,176.45 L329.76,176.90 L331.58,177.35 L333.39,177.80 L335.21,178.25 L337.02,178.71 L338.83,179.17 L340.65,179.63 L342.46,180.10 L344.27,180.57 L346.08,181.04 L347.89,181.51 L349.69,182.00 L351.50,182.48 L353.30,182.97 L355.11,183.46 L356.91,183.96 L358.71,184.47 L360.51,184.98 L362.30,185.49 L364.10,186.01 L365.89,186.54 L367.68,187.07 L369.47,187.61 L371.26,188.16 L373.04,188.71 L374.83,189.26 L376.61,189.82 L378.39,190.39 L380.17,190.96 L381.94,191.53 L383.72,192.11 L385.50,192.69 L387.27,193.28 L389.04,193.86 L390.82,194.45 L392.59,195.04 L394.36,195.63 L396.13,196.23 L397.91,196.82 L399.68,197.42 L401.45,198.01 L403.23,198.61 L405.00,199.20 L406.77,199.80 L408.55,200.39 L410.32,200.99 L412.09,201.58 L413.87,202.18 L415.64,202.78 L417.41,203.38 L419.18,203.98 L420.95,204.59 L422.72,205.20 L424.49,205.81 L426.25,206.43 L428.02,207.05 L429.78,207.68 L431.54,208.31 L433.30,208.95 L435.05,209.59 L436.80,210.24 L438.55,210.90 L440.30,211.56 L442.04,212.23 L443.78,212.91 L445.52,213.59 L447.25,214.29 L448.98,214.99 L450.70,215.70 L452.42,216.42 L454.14,217.14 L455.86,217.88 L457.57,218.62 L459.27,219.37 L460.98,220.13 L462.68,220.89 L464.38,221.66 L466.07,222.44 L467.77,223.22 L469.46,224.01 L471.14,224.80 L472.83,225.60 L474.51,226.41 L476.19,227.22 L477.87,228.04 L479.54,228.86 L481.22,229.69 L482.89,230.52 L484.56,231.36 L486.23,232.20 L487.89,233.04 L489.55,233.89 L491.22,234.74 L492.88,235.60 L494.54,236.46 L496.20,237.32 L497.85,238.19 L499.51,239.05 L501.16,239.93 L502.82,240.80 L504.47,241.67 L506.12,242.55 L507.77,243.43 L509.42,244.31 L511.07,245.20 L512.72,246.08 L514.37,246.97 L516.01,247.87 L517.66,248.76 L519.30,249.66 L520.94,250.56 L522.58,251.47 L524.21,252.37 L525.85,253.28 L527.48,254.20 L529.11,255.12 L530.74,256.04 L532.37,256.97 L533.99,257.90 L535.61,258.83 L537.23,259.77 L538.84,260.72 L540.46,261.66 L542.07,262.62 L543.67,263.58 L545.28,264.54 L546.88,265.51 L548.47,266.48 L550.07,267.46 L551.66,268.44 L553.24,269.43 L554.82,270.42 L556.40,271.42 L557.98,272.43 L559.55,273.44 L561.12,274.46 L562.68,275.48 L564.24,276.51 L565.79,277.55 L567.34,278.59 L568.89,279.64 L570.43,280.69 L571.96,281.76 L573.49,282.83 L575.02,283.91 L576.54,284.99 L578.06,286.08 L579.57,287.18 L581.08,288.28 L582.58,289.39 L584.08,290.51 L585.58,291.62 L587.07,292.75 L588.56,293.87 L590.05,295.00 L591.54,296.13 L593.03,297.27 L594.51,298.40 L596.00,299.53 L597.48,300.67 L598.97,301.81 L600.45,302.94 L601.94,304.07 L603.43,305.20 L604.92,306.33 L606.41,307.46 L607.90,308.58 L609.40,309.70 L610.89,310.82 L612.40,311.93 L613.90,313.03 L615.41,314.13 L616.92,315.23 L618.44,316.32 L619.96,317.41 L621.48,318.49 L623.00,319.57 L624.52,320.65 L626.05,321.73 L627.58,322.80 L629.10,323.88 L630.63,324.95 L632.16,326.03 L633.69,327.10 L635.22,328.18 L636.75,329.25 L638.28,330.33 L639.80,331.41 L641.32,332.50 L642.84,333.60 L644.35,334.70 L645.85,335.81 L647.35,336.93 L648.83,338.06 L650.31,339.20 L651.77,340.36 L653.23,341.53 L654.66,342.71 L656.09,343.92 L657.50,345.14 L658.89,346.38 L660.27,347.63 L661.63,348.91 L662.98,350.19 L664.32,351.50 L665.64,352.81 L666.95,354.14 L668.25,355.48 L669.53,356.84 L670.80,358.20 L672.07,359.58 L673.32,360.96 L674.56,362.36 L675.79,363.77 L677.01,365.18 L678.22,366.61 L679.42,368.04 L680.61,369.49 L681.79,370.94 L682.96,372.40 L684.12,373.87 L685.28,375.34 L686.43,376.82 L687.57,378.31 L688.70,379.80 L689.82,381.30 L690.94,382.80 L692.05,384.31 L693.16,385.83 L694.26,387.34 L695.35,388.87 L696.44,390.39 L697.52,391.92 L698.60,393.45 L699.67,394.99 L700.73,396.53 L701.78,398.08 L702.83,399.63 L703.87,401.18 L704.91,402.74 L705.93,404.31 L706.95,405.88 L707.96,407.45 L708.96,409.03 L709.95,410.61 L710.93,412.20 L711.91,413.79 L712.87,415.39 L713.83,416.99 L714.78,418.60 L715.71,420.21 L716.64,421.83 L717.56,423.46 L718.47,425.09 L719.36,426.72 L720.25,428.36 L721.12,430.01 L721.99,431.66 L722.84,433.32 L723.68,434.98 L724.52,436.65 L725.33,438.33 L726.14,440.01 L726.94,441.70 L727.72,443.39 L728.49,445.09 L729.25,446.80 L729.99,448.51 L730.72,450.23 L731.44,451.96 L732.15,453.69 L732.84,455.43 L733.52,457.18 L734.18,458.93 L734.83,460.69 L735.47,462.45 L736.09,464.23 L736.69,466.01" stroke="#cc0000" stroke-width="2.6" stroke-dasharray="18.35 9.37" stroke-dashoffset="0.8"/>
<path d="M736.70,466.00 L748.40,505.40" stroke="#cc0000" stroke-width="2.6"/>
<circle cx="737.1" cy="466.2" r="7.3" fill="none" stroke="#cc0000" stroke-width="1"/>
</g>
<rect x="104.0" y="52.0" width="694.90" height="459.65" fill="none" stroke="#000" stroke-width="1.55"/>
</g>
</svg>
</body></html>
